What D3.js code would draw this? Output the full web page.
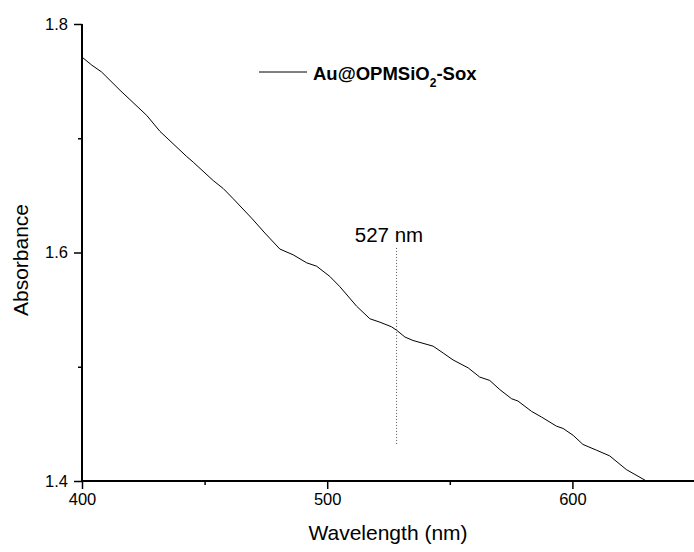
<!DOCTYPE html>
<html>
<head>
<meta charset="utf-8">
<script src="https://cdn.jsdelivr.net/npm/d3@7"></script>
<style>
  body { margin: 0; background: #fff; }
  text { font-family: "Liberation Sans", Arial, sans-serif; fill: #000; }
</style>
</head>
<body>
<div id="chart-area"></div>
<script>
const wavelength = [400, 404, 408, 415.5, 426.4, 431.8, 442.7, 445.4, 453.5, 457.6,
  461.7, 469.2, 474.6, 480.7, 486.1, 491.6, 495.7, 501.1, 505.2, 512,
  517.4, 521.5, 526.2, 528.3, 531.7, 535, 543.2, 547.3, 551.3, 557.5,
  562.2, 566.3, 570.4, 575.2, 577.8, 583.3, 587.4, 593.5, 596.2, 600.3,
  604.3, 609.8, 615.2, 622, 630.2];
const absorbance = [1.771, 1.764, 1.758, 1.742, 1.720, 1.706, 1.684, 1.679, 1.663, 1.656,
  1.647, 1.630, 1.617, 1.603, 1.598, 1.591, 1.588, 1.579, 1.570, 1.553,
  1.542, 1.539, 1.535, 1.532, 1.526, 1.523, 1.518, 1.512, 1.506, 1.499,
  1.491, 1.488, 1.480, 1.472, 1.470, 1.461, 1.456, 1.448, 1.446, 1.440,
  1.432, 1.427, 1.422, 1.410, 1.400];
const xMajorTicks = [400, 500, 600];
const xMinorTicks = [450, 550, 650];
const yMajorTicks = [1.4, 1.6, 1.8];
const yMinorTicks = [1.5, 1.7];
const peakWavelength = 528.3;
const peakRange = [1.4315, 1.604];
const peakLabel = '527 nm';
const seriesName = 'Au@OPMSiO';

const widthSvg = 694;
const heightSvg = 552;
const margin = { top: 24, right: 0, bottom: 71, left: 82 };
const heightChart = heightSvg - margin.top - margin.bottom;

const x = d3.scaleLinear().domain([400, 650]).range([margin.left, 695]);
const y = d3.scaleLinear().domain([1.4, 1.8]).range([margin.top + heightChart, margin.top]);

const svg = d3.select('#chart-area').append('svg')
  .attr('width', widthSvg)
  .attr('height', heightSvg);

const data = wavelength.map((w, i) => ({ w, a: absorbance[i] }));

// axes
const axisX = svg.append('g')
  .attr('transform', `translate(0, ${y(1.4)})`);
axisX.call(d3.axisBottom(x).tickValues(xMajorTicks).tickSize(8).tickPadding(4).tickFormat(d3.format('d')));
axisX.append('g')
  .call(d3.axisBottom(x).tickValues(xMinorTicks).tickSize(4).tickFormat(''));

const axisY = svg.append('g')
  .attr('transform', `translate(${x(400)}, 0)`);
axisY.call(d3.axisLeft(y).tickValues(yMajorTicks).tickSize(8).tickPadding(6).tickFormat(d3.format('.1f')));
axisY.append('g')
  .call(d3.axisLeft(y).tickValues(yMinorTicks).tickSize(4).tickFormat(''));

svg.selectAll('.domain').attr('stroke', '#000').attr('stroke-width', 2);
svg.selectAll('.tick line').attr('stroke', '#000').attr('stroke-width', 1.5);
svg.selectAll('.tick text')
  .attr('font-size', '16.5px')
  .attr('font-family', '"Liberation Sans", Arial, sans-serif')
  .attr('fill', '#000');
axisX.selectAll('.domain').attr('d', `M${x(400)},0H${widthSvg}`);
axisY.selectAll('.domain').attr('d', `M0,${y(1.8)}V${y(1.4)}`);

// axis titles
svg.append('text')
  .text('Wavelength (nm)')
  .attr('x', 388)
  .attr('y', 540)
  .attr('text-anchor', 'middle')
  .attr('font-size', '21px');

svg.append('text')
  .text('Absorbance')
  .attr('transform', `translate(28, 260)rotate(-90)`)
  .attr('text-anchor', 'middle')
  .attr('font-size', '21px');

// spectrum
const line = d3.line()
  .x(d => x(d.w))
  .y(d => y(d.a));

svg.append('path')
  .datum(data)
  .attr('d', line)
  .attr('fill', 'none')
  .attr('stroke', '#000')
  .attr('stroke-width', 1);

// peak marker
svg.append('line')
  .attr('x1', x(peakWavelength))
  .attr('x2', x(peakWavelength))
  .attr('y1', y(peakRange[1]))
  .attr('y2', y(peakRange[0]))
  .attr('stroke', '#555')
  .attr('stroke-width', 1)
  .attr('stroke-dasharray', '1,2');

svg.append('text')
  .text(peakLabel)
  .attr('x', 389)
  .attr('y', 242)
  .attr('text-anchor', 'middle')
  .attr('font-size', '20.5px');

// legend
svg.append('line')
  .attr('x1', 259).attr('x2', 307)
  .attr('y1', 72).attr('y2', 72)
  .attr('stroke', '#000')
  .attr('stroke-width', 1);

const legendText = svg.append('text')
  .attr('x', 313)
  .attr('y', 80)
  .attr('font-size', '18.5px')
  .attr('font-weight', 'bold');
legendText.append('tspan').text(seriesName);
legendText.append('tspan').text('2').attr('font-size', '12px').attr('dy', 7);
legendText.append('tspan').text('-Sox').attr('dy', -7);
</script>
</body>
</html>
